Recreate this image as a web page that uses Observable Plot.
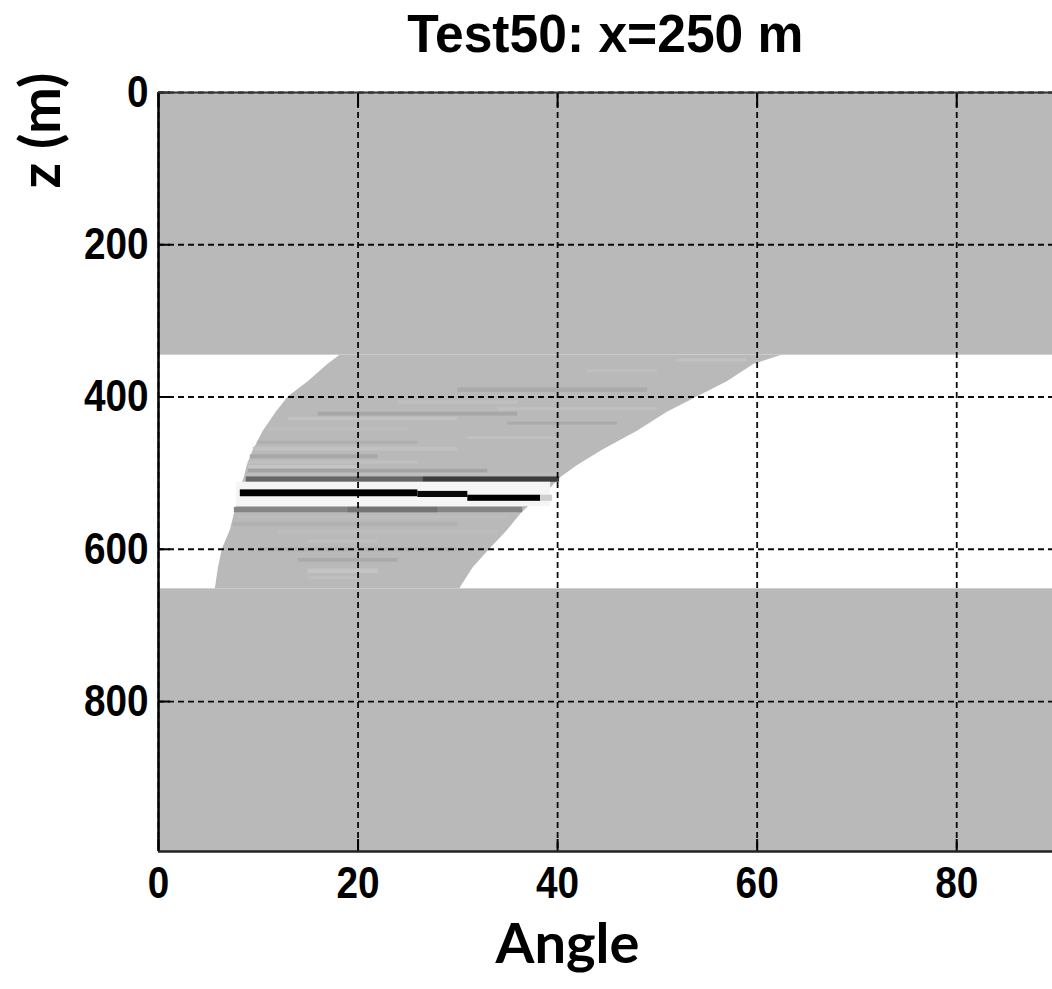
<!DOCTYPE html>
<html>
<head>
<meta charset="utf-8">
<script src="https://cdn.jsdelivr.net/npm/d3@7"></script>
<script src="https://cdn.jsdelivr.net/npm/@observablehq/plot@0.6"></script>
<style>
  body { margin: 0; background: #fff; }
  #title { height: 60px; position: relative; font-family: "Liberation Sans", Arial, sans-serif; font-weight: bold; font-size: 54px; color: #000; }
  #title div { position: absolute; left: 158px; width: 894px; text-align: center; top: 6px; line-height: 1; }
  #title span { display: inline-block; transform: scaleX(0.955); transform-origin: center; }
</style>
</head>
<body>
<div id="title"><div><span>Test50: x=250 m</span></div></div>
<div id="chart"></div>
<script>
const GRAY = "#b9b9b9";
const NARROW = "'Liberation Sans', Arial, sans-serif";
const HUMAN = "Lato, 'Open Sans', sans-serif";

// axis ticks
const xTicks = [0, 20, 40, 60, 80];
const zTicks = [0, 200, 400, 600, 800];

// masked (no data) depth band, m
const maskZ0 = [345];
const maskZ1 = [652];

// illuminated wedge inside the band: depth and angle limits
const wedgeZ     = [345, 357, 380, 400, 420, 445, 470, 490, 506, 520, 535, 554, 575, 600, 625, 652];
const wedgeLeft  = [18.2, 17.0, 15.0, 13.0, 11.8, 10.5, 9.5, 8.9, 8.6, 8.2, 8.0, 7.6, 7.2, 6.4, 6.0, 5.7];
const wedgeRight = [62.5, 59.7, 57.0, 54.0, 51.0, 48.0, 44.5, 42.0, 40.3, 39.3, 37.8, 36.3, 35.0, 33.2, 31.5, 30.2];

// reflectivity stripes: depth top/bottom, angle start/end, amplitude
const stripeZ0  = [350, 364, 388, 396, 405, 414, 420, 427, 433, 440, 452, 458, 466, 476, 484, 490, 495, 500,
                   505, 505, 512, 522, 524, 529, 529, 545, 545,
                   556, 565, 575, 588, 598, 612, 626, 636];
const stripeZ1  = [354, 368, 394, 400, 410, 418, 425, 431, 437, 445, 456, 462, 471, 481, 488, 494, 500, 504,
                   512, 512, 544, 531, 532, 537, 537, 552, 552,
                   560, 570, 580, 592, 603, 617, 632, 640];
const stripeA0  = [52, 43, 30, 33, 24, 34, 16, 13, 35, 11, 31, 10, 9.5, 9.2, 9.0, 9.0, 9.0, 9.0,
                   8.8, 26.5, 7.8, 8.2, 26, 31, 38.3, 7.6, 19,
                   8, 7.5, 12, 15, 10, 14, 15, 15];
const stripeA1  = [59, 50, 49, 45, 36, 50, 36, 30, 46, 25, 40, 26, 30, 22, 26, 20, 33, 40,
                   26.5, 40.2, 39.3, 26, 31, 38.3, 39.5, 36.5, 28,
                   35, 30, 34, 22, 30, 24, 22, 20];
const stripeAmp = [0.12, 0.08, -0.08, 0.06, 0.08, 0.10, -0.10, 0.12, -0.08, 0.06, 0.10, -0.06, 0.12, -0.10, 0.10, 0.15, -0.12, 0.05,
                   -0.45, -0.68, 0.85, -1, -0.95, -1, 0.3, -0.28, -0.38,
                   0.05, -0.05, 0.06, 0.08, -0.05, -0.08, 0.15, 0.08];

const mask = maskZ0.map((z0, i) => ({z0, z1: maskZ1[i]}));
const wedge = wedgeZ.map((z, i) => ({z, left: wedgeLeft[i], right: wedgeRight[i]}));
const stripes = stripeZ0.map((z0, i) => ({z0, z1: stripeZ1[i], a0: stripeA0[i], a1: stripeA1[i], amp: stripeAmp[i]}));

const gridStyle = {stroke: "#000", strokeOpacity: 0.95, strokeWidth: 1.8, strokeDasharray: "6,4"};
const tickFont = {fontSize: 45, fontWeight: "bold", fontFamily: NARROW};

const chart = Plot.plot({
  width: 1052,
  height: 929,
  marginTop: 32,
  marginBottom: 138,
  marginLeft: 158,
  marginRight: 0,
  style: {background: "#fff", color: "#000", fontFamily: NARROW, fontWeight: "bold", overflow: "visible"},
  x: {domain: [0, 89.6], axis: null},
  y: {domain: [0, 997], reverse: true, axis: null},
  color: {type: "linear", domain: [-1, 0, 1], range: ["#000000", GRAY, "#ffffff"]},
  marks: [
    Plot.frame({fill: GRAY, stroke: null}),
    Plot.rect(mask, {y1: "z0", y2: "z1", fill: "#ffffff"}),
    Plot.areaX(wedge, {y: "z", x1: "left", x2: "right", fill: GRAY}),
    Plot.rect(stripes, {x1: "a0", x2: "a1", y1: "z0", y2: "z1", fill: "amp"}),
    Plot.gridX(xTicks, gridStyle),
    Plot.gridY(zTicks, gridStyle),
    Plot.axisX(xTicks, {anchor: "bottom", tickSize: -12, tickFormat: () => "", label: null, strokeWidth: 2}),
    Plot.axisX(xTicks, {anchor: "top", tickSize: -14, tickFormat: () => "", label: null, strokeWidth: 2}),
    Plot.axisY(zTicks, {anchor: "left", tickSize: -12, tickFormat: () => "", label: null, strokeWidth: 2}),
    Plot.axisX(xTicks, {anchor: "bottom", tickSize: 0, tickPadding: 15, label: null, ...tickFont}),
    Plot.axisY(zTicks, {anchor: "left", tickSize: 0, tickPadding: 10, label: null, ...tickFont}),
    Plot.ruleX([0], {stroke: "#000", strokeWidth: 2.5}),
    Plot.ruleY([0], {stroke: "#333", strokeWidth: 2}),
    Plot.ruleY([997], {stroke: "#222", strokeWidth: 2.5}),
    Plot.text(["Angle"], {frameAnchor: "bottom", dx: -38, dy: 94, textAnchor: "middle", lineAnchor: "middle",
                          fontSize: 56, fontWeight: "bold", fontFamily: HUMAN}),
    Plot.text(["z (m)"], {frameAnchor: "top-left", dx: -116, dy: 38, rotate: -90, textAnchor: "middle", lineAnchor: "middle",
                          fontSize: 56, fontWeight: "bold", fontFamily: HUMAN})
  ]
});
document.getElementById("chart").append(chart);

// condense the tick labels horizontally, as in the reference
chart.querySelectorAll('g[aria-label$="tick label"] text').forEach((t) => {
  const w = t.getComputedTextLength();
  if (w > 0) {
    t.setAttribute("textLength", (w * 0.86).toFixed(1));
    t.setAttribute("lengthAdjust", "spacingAndGlyphs");
  }
});
</script>
</body>
</html>
